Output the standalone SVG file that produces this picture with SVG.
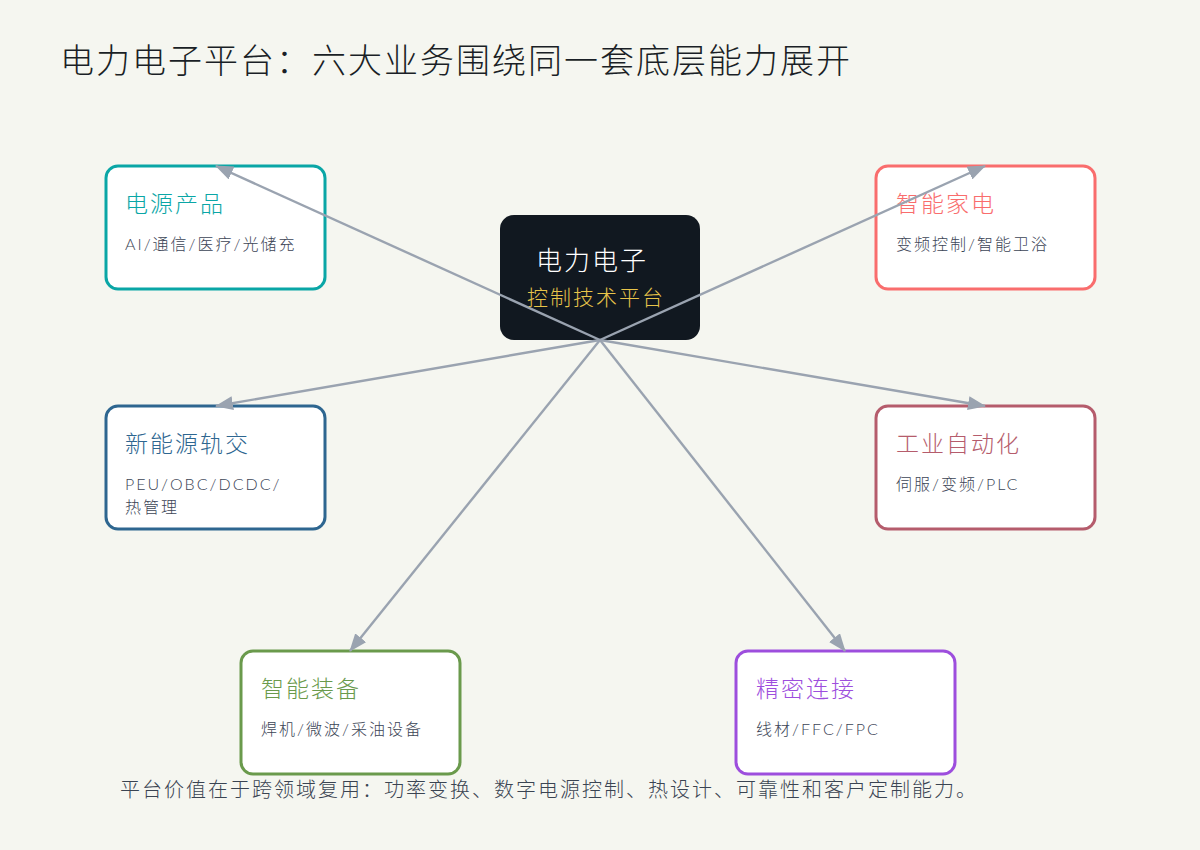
<svg xmlns="http://www.w3.org/2000/svg" width="1200" height="850" viewBox="0 0 1200 850">
<defs>
<style>
text{font-family:Lato,"Noto Sans CJK SC",sans-serif;font-weight:300;letter-spacing:2px}
.box{fill:#ffffff;stroke-width:3}
.h{font-size:23px}
.s{font-size:16px;fill:#3c4556}
.c{stroke:#9aa3b0;stroke-width:2.4;fill:none;marker-end:url(#ah)}
</style>
<marker id="ah" viewBox="0 0 18 14" refX="17" refY="7" markerWidth="18" markerHeight="14" markerUnits="userSpaceOnUse" orient="auto">
<path d="M0,0 L18,7 L0,14 z" fill="#9aa3b0"/>
</marker>
</defs>
<rect width="1200" height="850" fill="#f5f6f0"/>
<text x="60" y="73" font-size="34" fill="#1a1f26">电力电子平台：六大业务围绕同一套底层能力展开</text>

<g id="n-core">
<rect x="500" y="215" width="200" height="125" rx="14" fill="#111820"/>
<text x="592" y="270" font-size="26" fill="#ffffff" text-anchor="middle">电力电子</text>
<text x="596" y="305" font-size="21" fill="#e8c44a" text-anchor="middle">控制技术平台</text>
</g>

<g id="n-power">
<rect class="box" x="106" y="166" width="219" height="123" rx="12" stroke="#0aa6a6"/>
<text class="h" x="125" y="212" fill="#0aa6a6">电源产品</text>
<text class="s" x="125" y="250">AI/通信/医疗/光储充</text>
</g>
<g id="n-home">
<rect class="box" x="876" y="166" width="219" height="123" rx="12" stroke="#f96d6d"/>
<text class="h" x="896" y="212" fill="#f96d6d">智能家电</text>
<text class="s" x="896" y="250">变频控制/智能卫浴</text>
</g>
<g id="n-nev">
<rect class="box" x="106" y="406" width="219" height="123" rx="12" stroke="#2e6690"/>
<text class="h" x="125" y="452" fill="#2e6690">新能源轨交</text>
<text class="s" x="125" y="490">PEU/OBC/DCDC/</text>
<text class="s" x="125" y="513">热管理</text>
</g>
<g id="n-ind">
<rect class="box" x="876" y="406" width="219" height="123" rx="12" stroke="#b55c6c"/>
<text class="h" x="896" y="452" fill="#b55c6c">工业自动化</text>
<text class="s" x="896" y="490">伺服/变频/PLC</text>
</g>
<g id="n-equip">
<rect class="box" x="241" y="651" width="219" height="123" rx="12" stroke="#6a9a4c"/>
<text class="h" x="261" y="697" fill="#6a9a4c">智能装备</text>
<text class="s" x="261" y="735">焊机/微波/采油设备</text>
</g>
<g id="n-conn">
<rect class="box" x="736" y="651" width="219" height="123" rx="12" stroke="#9d4edd"/>
<text class="h" x="756" y="697" fill="#9d4edd">精密连接</text>
<text class="s" x="756" y="735">线材/FFC/FPC</text>
</g>

<g id="connectors">
<line class="c" x1="600" y1="340" x2="216" y2="166"/>
<line class="c" x1="600" y1="340" x2="985" y2="166"/>
<line class="c" x1="600" y1="340" x2="216" y2="406"/>
<line class="c" x1="600" y1="340" x2="985" y2="406"/>
<line class="c" x1="600" y1="340" x2="350" y2="651"/>
<line class="c" x1="600" y1="340" x2="845" y2="651"/>
</g>

<text x="120" y="797" font-size="20" fill="#3a4452">平台价值在于跨领域复用：功率变换、数字电源控制、热设计、可靠性和客户定制能力。</text>
</svg>
